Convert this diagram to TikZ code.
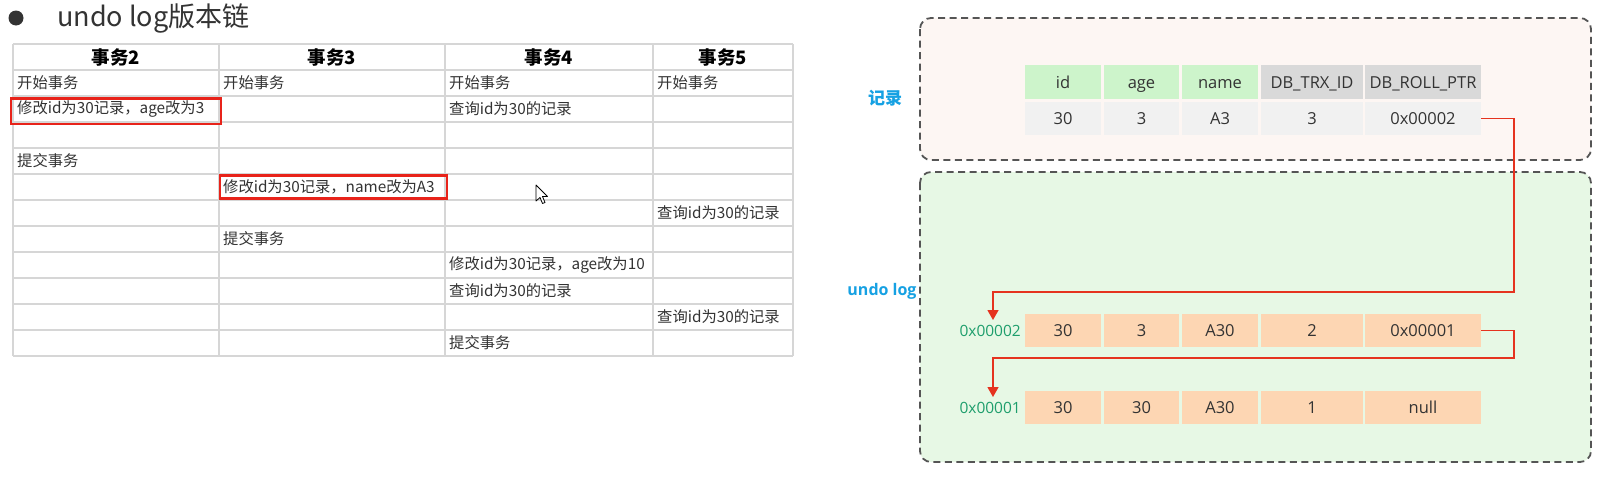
\documentclass[tikz,border=0pt]{standalone}
\usepackage{fontspec}
\setmainfont{Noto Sans CJK SC}
\newfontfamily\latinfont{Open Sans}
\usetikzlibrary{arrows.meta}
\definecolor{gridc}{HTML}{D6D6D6}
\definecolor{txt}{HTML}{333333}
\definecolor{redbox}{HTML}{E8231A}
\definecolor{panelline}{HTML}{555555}
\definecolor{pinkbg}{HTML}{FDF6F3}
\definecolor{greenbg}{HTML}{E7F8E5}
\definecolor{hgreen}{HTML}{CDF4CB}
\definecolor{hgray}{HTML}{D9D9D9}
\definecolor{dgray}{HTML}{F1F1F1}
\definecolor{peach}{HTML}{FDD6B3}
\definecolor{bluelab}{HTML}{16A1E3}
\definecolor{greenlab}{HTML}{1E9E6C}
\definecolor{chainred}{HTML}{E5331F}
\begin{document}
\begin{tikzpicture}[x=1pt,y=-1pt,
  tcell/.style={anchor=west,inner sep=0pt,text=txt,font=\fontsize{15.3}{18}\selectfont},
  thead/.style={anchor=center,inner sep=0pt,text=black,font=\fontsize{18.5}{21}\selectfont\bfseries},
  gridline/.style={draw=gridc,line width=1.3pt},
  hilite/.style={draw=redbox,line width=2.6pt},
  panel/.style={draw=panelline,line width=1.8pt,dash pattern=on 7pt off 4.5pt,rounded corners=11pt},
  rcell/.style={inner sep=0pt,text=txt,text height=12pt,text depth=0pt,font=\latinfont\fontsize{16.5}{19}\selectfont},
  chain/.style={draw=chainred,line width=1.4pt},
  chaintip/.style={-{Triangle[width=11pt,length=10pt]}},
  sidelab/.style={text=bluelab,inner sep=0pt,font=\fontsize{17}{20}\selectfont\bfseries},
  addr/.style={text=greenlab,inner sep=0pt,font=\latinfont\fontsize{15.5}{18}\selectfont}
]
\useasboundingbox[fill=white] (0,0) rectangle (1604,479);

% ---------- title ----------
\fill[txt] (16,18) circle (7.5);
\node[anchor=west,inner sep=0pt,text=txt,font=\fontsize{27}{31}\selectfont] (title) at (57,18) {undo log版本链};

% ---------- left table grid ----------
\foreach \yy in {44,70,96,122,148,174,200,226,252,278,304,330,356}
  \draw[gridline] (13,\yy) -- (793,\yy);
\foreach \xx in {13,219,445,653,793}
  \draw[gridline] (\xx,44) -- (\xx,356);

% headers
\node[thead] (h2) at (116,57) {事务2};
\node[thead] (h3) at (332,57) {事务3};
\node[thead] (h4) at (549,57) {事务4};
\node[thead] (h5) at (723,57) {事务5};

% body
\node[tcell] (a1) at (17,83) {开始事务};
\node[tcell] (a2) at (223,83) {开始事务};
\node[tcell] (a3) at (449,83) {开始事务};
\node[tcell] (a4) at (657,83) {开始事务};
\node[tcell] (b1) at (17,109) {修改id为30记录，age改为3};
\node[tcell] (b3) at (449,109) {查询id为30的记录};
\node[tcell] (d1) at (17,161) {提交事务};
\node[tcell] (e2) at (223,187) {修改id为30记录，name改为A3};
\node[tcell] (f4) at (657,213) {查询id为30的记录};
\node[tcell] (g2) at (223,239) {提交事务};
\node[tcell] (h3b) at (449,265) {修改id为30记录，age改为10};
\node[tcell] (i3) at (449,291) {查询id为30的记录};
\node[tcell] (j4) at (657,317) {查询id为30的记录};
\node[tcell] (k3) at (449,343) {提交事务};

% red highlight boxes
\draw[hilite] (11,98.5) rectangle (221,124);
\draw[hilite] (220,175.5) rectangle (447,198.5);

% mouse cursor
\draw[fill=white,draw=black,line width=0.8pt,line join=round,shift={(536,185)}]
  (0,0) -- (0,16) -- (4,12.5) -- (6.5,18.5) -- (9,17.5) -- (6.5,11.5) -- (11.5,11.5) -- cycle;

% ---------- right panels ----------
\draw[panel,fill=pinkbg] (920,18) rectangle (1591,160);
\draw[panel,fill=greenbg] (920,172) rectangle (1591,462);

\node[sidelab] (lrec) at (885,98) {记录};
\node[sidelab,font=\latinfont\fontsize{16}{19}\selectfont\bfseries] (lundo) at (882,291) {undo log};

% record table
\foreach \n/\cx/\w/\t/\f in {1/1063/76/id/hgreen, 2/1141.5/75/age/hgreen, 3/1220/76/name/hgreen, 4/1312/102/DB\_TRX\_ID/hgray, 5/1423/116/DB\_ROLL\_PTR/hgray}
  \node[rcell,fill=\f,minimum width=\w pt,minimum height=34pt] (rh\n) at (\cx,82) {\t};
\foreach \n/\cx/\w/\t in {1/1063/76/30, 2/1141.5/75/3, 3/1220/76/A3, 4/1312/102/3, 5/1423/116/0x00002}
  \node[rcell,fill=dgray,minimum width=\w pt,minimum height=33pt] (rd\n) at (\cx,118.5) {\t};

% undo log rows
\foreach \n/\cx/\w/\t in {1/1063/76/30, 2/1141.5/75/3, 3/1220/76/A30, 4/1312/102/2, 5/1423/116/0x00001}
  \node[rcell,fill=peach,minimum width=\w pt,minimum height=33pt] (ua\n) at (\cx,330.5) {\t};
\foreach \n/\cx/\w/\t in {1/1063/76/30, 2/1141.5/75/30, 3/1220/76/A30, 4/1312/102/1, 5/1423/116/null}
  \node[rcell,fill=peach,minimum width=\w pt,minimum height=33pt] (ub\n) at (\cx,407.5) {\t};

\node[addr,anchor=east] (addr2) at (1021,331) {0x00002};
\node[addr,anchor=east] (addr1) at (1021,408) {0x00001};

% pointer chain
\coordinate (k1) at (1514,292);
\coordinate (t1) at (993,320);
\coordinate (k2) at (1514,358);
\coordinate (t2) at (993,397);
\draw[chain,chaintip] (rd5.east) -| (k1) -| (t1);
\draw[chain,chaintip] (ua5.east) -| (k2) -| (t2);
\end{tikzpicture}
\end{document}
